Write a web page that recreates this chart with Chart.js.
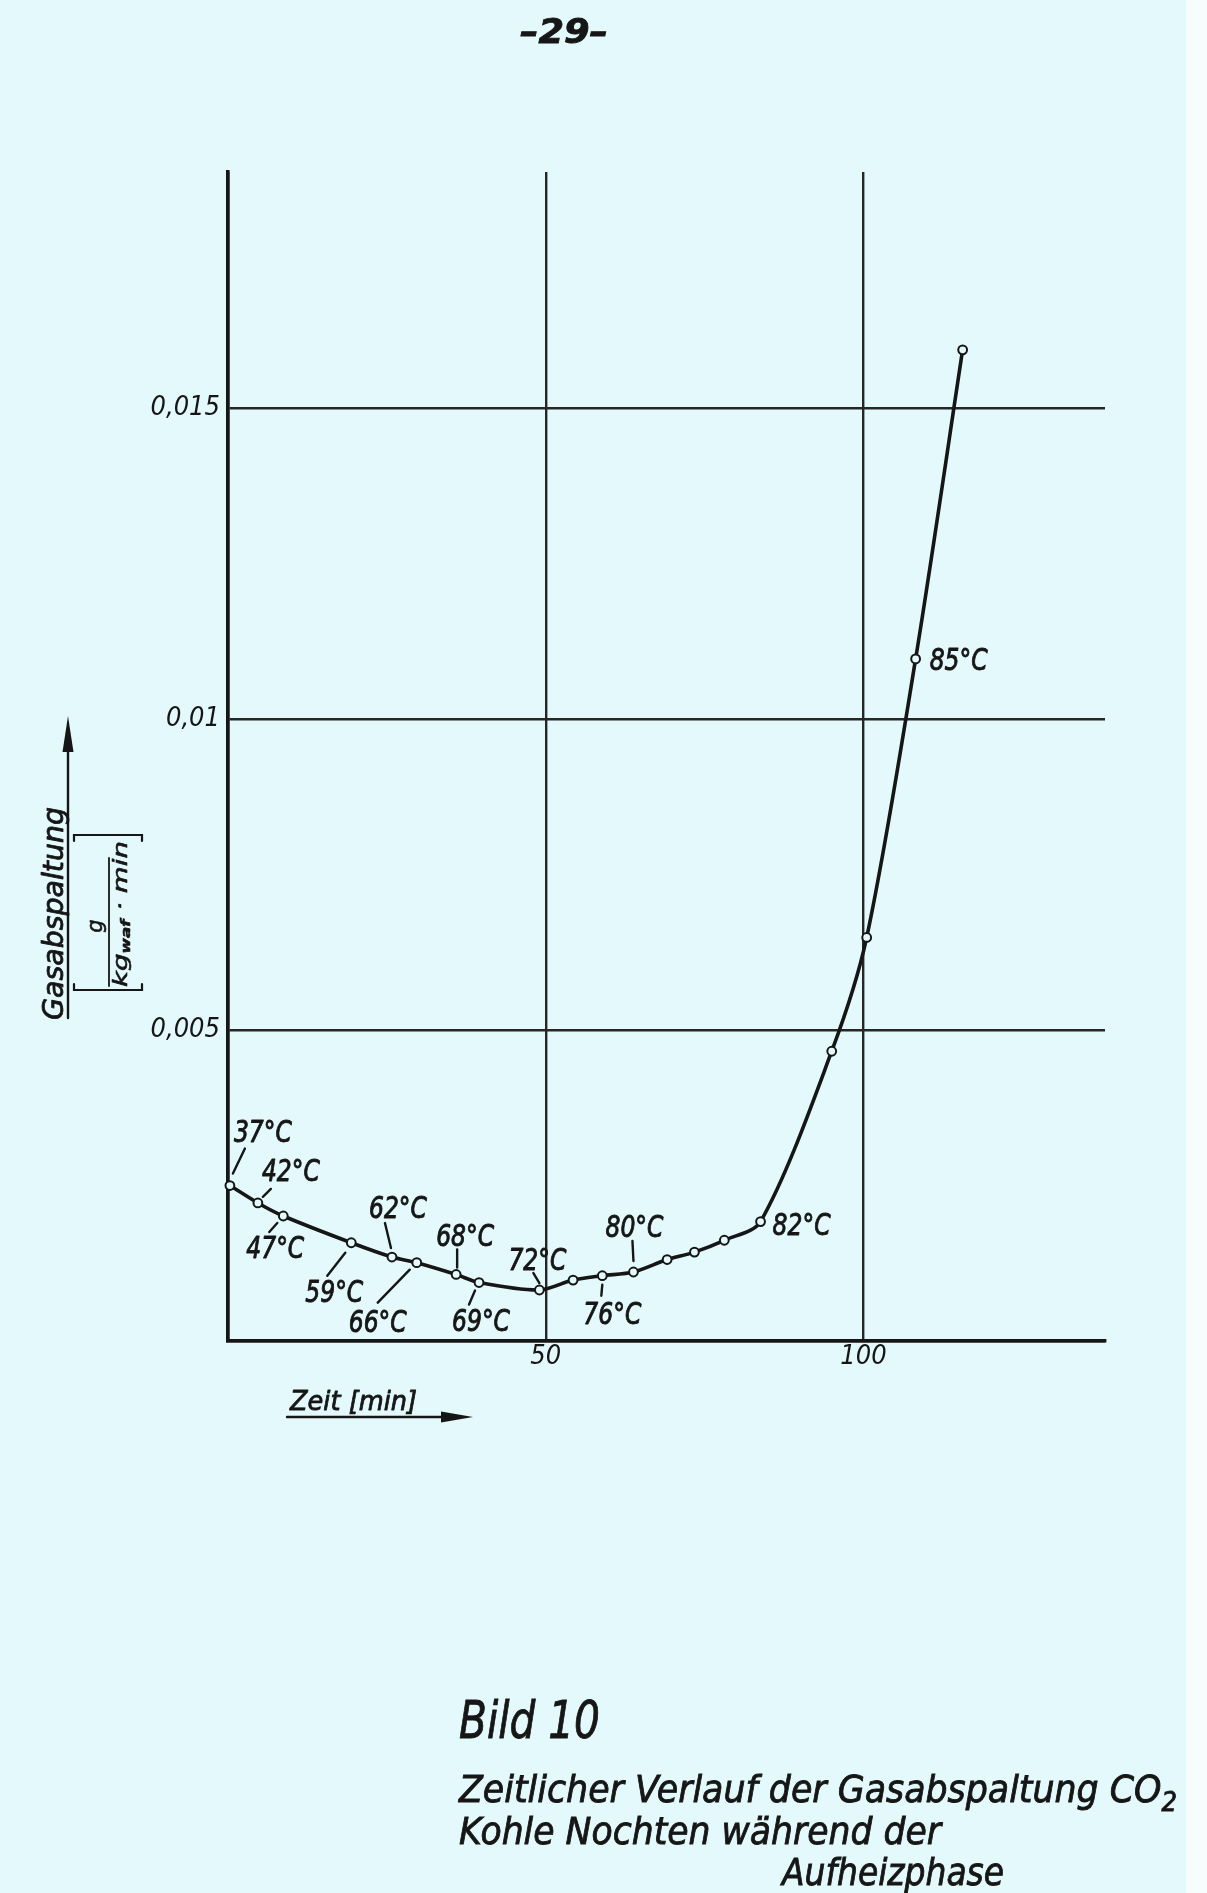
<!DOCTYPE html>
<html><head><meta charset="utf-8">
<script src="https://cdn.jsdelivr.net/npm/chart.js@4"></script>
<style>
html,body{margin:0;padding:0;background:#e3f9fb;}
body{width:1207px;height:1893px;position:relative;overflow:hidden;font-family:'DejaVu Sans',sans-serif;color:#161616;}
#c{position:absolute;left:0;top:0;}
.t{position:absolute;white-space:nowrap;font-style:italic;transform-origin:0 0;line-height:1;-webkit-text-stroke:0.9px #161616;}
#edge{position:absolute;left:1186px;top:0;width:21px;height:1893px;background:#f7fdfd;}
</style></head><body>
<canvas id="c" width="1207" height="1893"></canvas>
<div class="t" id="pg" style="font-weight:bold">–29–</div>
<div class="t" id="cap0">Bild 10</div>
<div class="t" id="cap1">Zeitlicher Verlauf der Gasabspaltung CO<sub style="font-size:0.7em">2</sub></div>
<div class="t" id="cap2">Kohle Nochten während der</div>
<div class="t" id="cap3">Aufheizphase</div>
<div id="edge"></div>
<script>
// ---- data ----
const time = [0.3, 4.7, 8.7, 19.4, 25.8, 29.7, 35.9, 39.5, 49.0, 54.3, 58.9, 63.8, 69.1, 73.4, 78.1, 83.8, 95.0, 100.5, 108.2, 115.6];
const gas  = [0.00250, 0.00222, 0.00201, 0.00158, 0.00135, 0.00126, 0.00107, 0.00094, 0.00082, 0.00098, 0.00105, 0.00111, 0.00131, 0.00143, 0.00162, 0.00192, 0.00466, 0.00649, 0.01097, 0.01594];
const temps = ['37°C','42°C','47°C','59°C','62°C','66°C','68°C','69°C','72°C','','76°C','80°C','','','','82°C','','','85°C',''];
const xTicks = [50, 100];
const xTickLabels = ['50', '100'];
const yTicks = [0.005, 0.01, 0.015];
const yTickLabels = ['0,005', '0,01', '0,015'];

// ---- layout / style (label offsets in px relative to their point) ----
const labelLayout = [
  [33,-55, 15,-37, 3,-12],
  [33,-33, 13,-14, 5,-6],
  [-8,31, -6,7, -14,16],
  [-17,48, -6,10, -24,33],
  [6,-50, -7,-34, -1,-9],
  [-39,58, -7,7, -39,40],
  [9,-40, 1,-25, 1,-7],
  [2,37, -4,8, -10,22],
  [-2,-31, -6,-17, 0,-7],
  null,
  [10,37, 0,9, -1,20],
  [1,-46, -1,-31, 0,-11],
  null, null, null,
  [41,2],
  null, null,
  [43,0],
  null
];
const INK = '#161616', GRID = '#262626', BG = '#e3f9fb';

function has(f){const c=document.createElement('canvas').getContext('2d');c.font='40px monospace';const a=c.measureText('abcdefghij0,015').width;c.font='40px "'+f+'", monospace';return Math.abs(c.measureText('abcdefghij0,015').width-a)>0.5;}
const hasNarrow = has('Liberation Sans Narrow');
const NARROW = hasNarrow ? 'Liberation Sans Narrow' : 'DejaVu Sans Condensed';
const TICKSIZE = hasNarrow ? 30 : 27;
const LBLSIZE = 31;
const LBLSCALE = hasNarrow ? 1 : 0.84;

function boldFill(ctx, s, x, y, w) {
  ctx.lineWidth = w || 0.8; ctx.lineJoin = 'round';
  ctx.fillText(s, x, y); ctx.strokeText(s, x, y);
}
function fitText(ctx, s, x, y, font, w) {
  ctx.font = font;
  const n = ctx.measureText(s).width;
  ctx.save(); ctx.translate(x, y); ctx.scale(w / n, 1); ctx.textAlign = 'left'; boldFill(ctx, s, 0, 0); ctx.restore();
}
function seg(ctx, a, b, c, d){ ctx.beginPath(); ctx.moveTo(a,b); ctx.lineTo(c,d); ctx.stroke(); }

const annot = {
  id: 'annot',
  afterDatasetsDraw(chart) {
    const ctx = chart.ctx, xs = chart.scales.x, ys = chart.scales.y;
    ctx.save();
    ctx.fillStyle = INK; ctx.strokeStyle = INK; ctx.lineCap = 'round';
    // temperature labels
    time.forEach((t, i) => {
      const L = labelLayout[i];
      if (!L || !temps[i]) return;
      const px = xs.getPixelForValue(t), py = ys.getPixelForValue(gas[i]);
      ctx.font = 'italic ' + LBLSIZE + 'px "' + NARROW + '"';
      ctx.save();
      ctx.translate(px + L[0], py + L[1] + LBLSIZE * 0.36);
      ctx.scale(LBLSCALE, 1);
      ctx.textAlign = 'center'; ctx.textBaseline = 'alphabetic';
      boldFill(ctx, temps[i], 0, 0, 0.9);
      ctx.restore();
      ctx.lineWidth = 2.4;
      if (L.length > 2) seg(ctx, px + L[2], py + L[3], px + L[4], py + L[5]);
    });
    // y axis title with arrow
    ctx.lineWidth = 2.4;
    seg(ctx, 68, 1018, 68, 745);
    ctx.beginPath(); ctx.moveTo(68, 716); ctx.lineTo(62.5, 752); ctx.lineTo(73.5, 752); ctx.closePath(); ctx.fill();
    ctx.save();
    ctx.rotate(-Math.PI / 2); // local (u,v) -> screen (v,-u)
    fitText(ctx, 'Gasabspaltung', -1020, 63, 'italic 28px "DejaVu Sans"', 213);
    // bracket fraction
    ctx.lineWidth = 2.2;
    ctx.beginPath(); ctx.moveTo(-984, 74); ctx.lineTo(-990, 74); ctx.lineTo(-990, 142); ctx.lineTo(-984, 142); ctx.stroke();
    ctx.beginPath(); ctx.moveTo(-841, 74); ctx.lineTo(-835, 74); ctx.lineTo(-835, 142); ctx.lineTo(-841, 142); ctx.stroke();
    ctx.font = 'italic 21px "DejaVu Sans"'; ctx.textAlign = 'center';
    boldFill(ctx, 'g', -926, 102, 0.6);
    ctx.lineWidth = 1.8;
    seg(ctx, -986, 109, -858, 109);
    // denominator kg_waf · min
    const parts = [['kg', 'italic 20px "DejaVu Sans"', 0], ['waf', 'italic bold 12px "DejaVu Sans"', 3], [' · min', 'italic 20px "DejaVu Sans"', 0]];
    let tot = 0; parts.forEach(p => { ctx.font = p[1]; p.push(ctx.measureText(p[0]).width); tot += p[3]; });
    const k = 146 / tot; let u = -987;
    ctx.textAlign = 'left';
    parts.forEach(p => { ctx.font = p[1]; ctx.save(); ctx.translate(u, 127 + p[2]); ctx.scale(k, 1); boldFill(ctx, p[0], 0, 0, 0.6); ctx.restore(); u += p[3] * k; });
    ctx.restore();
    // x axis title with arrow
    fitText(ctx, 'Zeit [min]', 290, 1410, 'italic 26px "DejaVu Sans"', 127);
    ctx.lineWidth = 2.4;
    seg(ctx, 287, 1417, 450, 1417);
    ctx.beginPath(); ctx.moveTo(473, 1417); ctx.lineTo(441, 1411.5); ctx.lineTo(441, 1422.5); ctx.closePath(); ctx.fill();
    ctx.restore();
  }
};

const tickFont = { family: NARROW, size: TICKSIZE, style: 'italic', weight: 'normal' };
new Chart(document.getElementById('c'), {
  type: 'line',
  data: { datasets: [{
    data: time.map((t, i) => ({ x: t, y: gas[i] })),
    borderColor: INK, borderWidth: 3.6, tension: 0.3, fill: false, clip: false,
    pointRadius: 4.4, pointBorderWidth: 2, pointBackgroundColor: BG, pointBorderColor: INK
  }]},
  options: {
    responsive: false, animation: false, devicePixelRatio: 1,
    layout: { padding: { left: 128, right: 102, top: 172, bottom: 502 } },
    plugins: { legend: { display: false }, tooltip: { enabled: false } },
    scales: {
      x: {
        type: 'linear', min: 0, max: 138,
        afterFit(s) { s.height = 50; },
        ticks: { stepSize: 50, includeBounds: false, padding: 0, color: INK, font: tickFont, maxRotation: 0,
          callback: v => { const i = xTicks.findIndex(t => Math.abs(t - v) < 1e-9); return i < 0 ? '' : xTickLabels[i]; } },
        grid: { color: GRID, lineWidth: 2.4, drawTicks: false },
        border: { color: INK, width: 3.6 }
      },
      y: {
        type: 'linear', min: 0, max: 0.0188,
        afterFit(s) { s.width = 100; },
        ticks: { stepSize: 0.005, includeBounds: false, padding: 8, color: INK, font: tickFont,
          callback: v => { const i = yTicks.findIndex(t => Math.abs(t - v) < 1e-9); return i < 0 ? '' : yTickLabels[i]; } },
        grid: { color: GRID, lineWidth: 2.4, drawTicks: false },
        border: { color: INK, width: 3.6 }
      }
    }
  },
  plugins: [annot]
});

// ---- HTML captions, fitted to the widths in the reference ----
function place(id, left, capTop, size, width) {
  const el = document.getElementById(id);
  el.style.fontSize = size + 'px';
  el.style.left = left + 'px';
  el.style.top = (capTop - 0.116 * size) + 'px';
  const w = el.getBoundingClientRect().width;
  el.style.transform = 'scaleX(' + (width / w) + ')';
}
place('pg', 520, 18, 34, 88);
place('cap0', 459, 1700, 52, 141);
place('cap1', 459, 1774, 38, 718);
place('cap2', 459, 1816, 38, 482);
place('cap3', 782, 1857, 38, 222);
</script>
</body></html>
